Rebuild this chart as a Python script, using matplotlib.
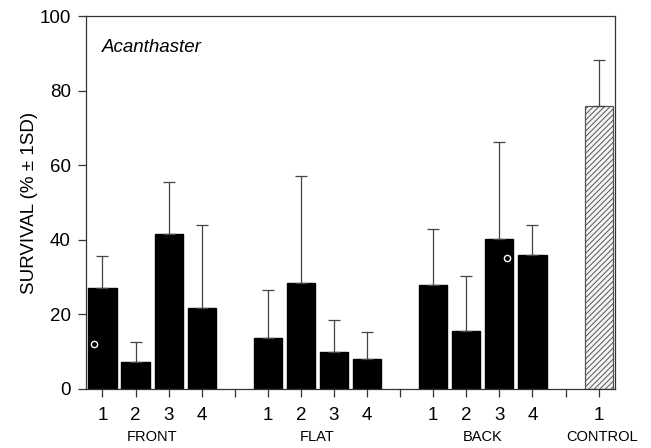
import numpy as np
import matplotlib
matplotlib.use("Agg")
import matplotlib.pyplot as plt

plt.rcParams["font.family"] = ["Liberation Sans", "DejaVu Sans"]

groups = ["FRONT", "FLAT", "BACK", "CONTROL"]
front_mean = [27, 7.3, 41.6, 21.6]
front_sd = [8.6, 5.4, 14.0, 22.4]
flat_mean = [13.6, 28.3, 10.0, 8.0]
flat_sd = [12.9, 28.9, 8.5, 7.3]
back_mean = [27.9, 15.6, 40.2, 35.9]
back_sd = [15.1, 14.7, 26.1, 8.1]
control_mean = [75.9]
control_sd = [12.3]
# open circles drawn inside two bars
circle_pos = [(0, 12.0, -0.25), (12, 35.0, 0.22)]

# positions: 4 bars per group, one empty slot between groups
x_front = np.arange(4)
x_flat = np.arange(5, 9)
x_back = np.arange(10, 14)
x_control = np.array([15])

fig, ax = plt.subplots(figsize=(6.51, 4.48), dpi=100)
fig.subplots_adjust(left=0.132, right=0.945, bottom=0.132, top=0.964)

w = 0.85
err_kw = dict(ecolor="#444444", elinewidth=0.9, capsize=4.5, capthick=0.9)
for xs, m, sd in [(x_front, front_mean, front_sd),
                  (x_flat, flat_mean, flat_sd),
                  (x_back, back_mean, back_sd)]:
    ax.bar(xs, m, width=w, color="black", edgecolor="black",
           yerr=[np.zeros(len(sd)), sd], error_kw=err_kw, zorder=2)

plt.rcParams["hatch.color"] = "#777777"
plt.rcParams["hatch.linewidth"] = 0.7
ax.bar(x_control, control_mean, width=w, color="#f4f4f4", edgecolor="#555555",
       hatch="//////", linewidth=0.9,
       yerr=[np.zeros(1), control_sd], error_kw=err_kw, zorder=2)

for xi, yv, off in circle_pos:
    ax.plot(xi + off, yv, "o", ms=4.5, mfc="none", mec="white", mew=1.0, zorder=3)

ax.set_xlim(-0.5, 15.5)
ax.set_ylim(0, 100)
ax.set_yticks([0, 20, 40, 60, 80, 100])
ticks = np.arange(16)
labels = ["1", "2", "3", "4", "", "1", "2", "3", "4", "", "1", "2", "3", "4", "", "1"]
ax.set_xticks(ticks)
ax.set_xticklabels(labels)
ax.tick_params(axis="both", direction="out", length=6, width=0.9,
               labelsize=13.5, color="#333333")
ax.tick_params(axis="x", pad=7)
ax.tick_params(axis="y", pad=5)
for s in ax.spines.values():
    s.set_linewidth(0.9)
    s.set_color("#333333")

ax.set_ylabel("SURVIVAL (% \u00b1 1SD)", fontsize=13.5, labelpad=1)

group_x = [1.5, 6.5, 11.5, 15.1]
for gx, g in zip(group_x, groups):
    ax.text(gx, -0.13, g, transform=ax.get_xaxis_transform(),
            ha="center", va="center", fontsize=10.5)

ax.text(0.03, 0.915, "Acanthaster", transform=ax.transAxes,
        fontstyle="italic", fontsize=13.5, ha="left", va="center")

fig.savefig("out.png", dpi=100)
